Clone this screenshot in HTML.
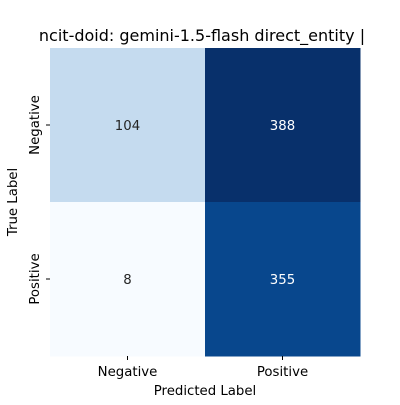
<!DOCTYPE html>
<html><head><meta charset="utf-8"><style>
body{margin:0;background:#fff;}
svg text{font-family:"DejaVu Sans","Liberation Sans",sans-serif;}
</style></head><body>
<svg id="chart" width="400" height="400" xmlns="http://www.w3.org/2000/svg">
<text x="202" y="41" font-size="16" text-anchor="middle" fill="#000">ncit-doid: gemini-1.5-flash direct_entity |</text>
<g id="cells"></g>
<text x="205" y="395" font-size="13.3" text-anchor="middle">Predicted Label</text>
<text transform="translate(17,202) rotate(-90)" font-size="13.3" text-anchor="middle">True Label</text>
</svg>
<script>
const xLabels = ["Negative","Positive"];
const yLabels = ["Negative","Positive"];
const values = [[104,388],[8,355]];
const stops = ["#f7fbff","#deebf7","#c6dbef","#9ecae1","#6baed6","#4292c6","#2171b5","#08519c","#08306b"];
const L=50,R=360,T=48,B=356;
const cw=(R-L)/xLabels.length, ch=(B-T)/yLabels.length;
const flat=values.flat(), vmin=Math.min(...flat), vmax=Math.max(...flat);
function hex(h){return [1,3,5].map(i=>parseInt(h.substr(i,2),16));}
function color(v){
  let t=(v-vmin)/(vmax-vmin||1); t=Math.max(0,Math.min(1,t))*(stops.length-1);
  const i=Math.min(Math.floor(t),stops.length-2), f=t-i;
  const a=hex(stops[i]), b=hex(stops[i+1]);
  return {c:`rgb(${a.map((x,k)=>Math.round(x+(b[k]-x)*f)).join(",")})`, lum:(a[0]+(b[0]-a[0])*f)*0.299+(a[1]+(b[1]-a[1])*f)*0.587+(a[2]+(b[2]-a[2])*f)*0.114};
}
const NS="http://www.w3.org/2000/svg", g=document.getElementById("cells"), svg=document.getElementById("chart");
values.forEach((row,r)=>row.forEach((v,c)=>{
  const col=color(v);
  const rect=document.createElementNS(NS,"rect");
  rect.setAttribute("x",L+c*cw);rect.setAttribute("y",T+r*ch);
  rect.setAttribute("width",cw+0.5);rect.setAttribute("height",ch+0.5);
  rect.setAttribute("fill",col.c);
  
  
  g.appendChild(rect);
  const t=document.createElementNS(NS,"text");
  t.setAttribute("x",L+c*cw+cw/2);t.setAttribute("y",T+r*ch+ch/2+5);
  t.setAttribute("font-size","13.3");t.setAttribute("text-anchor","middle");
  t.setAttribute("fill",col.lum<128?"#fff":"#262626");
  t.textContent=v;
  
  
  g.appendChild(t);
}));
xLabels.forEach((lab,i)=>{
  const x=L+i*cw+cw/2;
  const tk=document.createElementNS(NS,"line");
  tk.setAttribute("x1",x);tk.setAttribute("x2",x);tk.setAttribute("y1",B);tk.setAttribute("y2",B+4);tk.setAttribute("stroke","#000");
  
  
  svg.appendChild(tk);
  const t=document.createElementNS(NS,"text");
  t.setAttribute("x",x);t.setAttribute("y",B+20);t.setAttribute("font-size","13.3");t.setAttribute("text-anchor","middle");
  t.textContent=lab;
  
  
  svg.appendChild(t);
});
yLabels.forEach((lab,i)=>{
  const y=T+i*ch+ch/2;
  const tk=document.createElementNS(NS,"line");
  tk.setAttribute("x1",L-4);tk.setAttribute("x2",L);tk.setAttribute("y1",y);tk.setAttribute("y2",y);tk.setAttribute("stroke","#000");
  
  
  svg.appendChild(tk);
  const t=document.createElementNS(NS,"text");
  t.setAttribute("transform",`translate(${L-11},${y}) rotate(-90)`);
  t.setAttribute("font-size","13.3");t.setAttribute("text-anchor","middle");
  t.textContent=lab;
  
  
  svg.appendChild(t);
});
</script>
</body></html>
